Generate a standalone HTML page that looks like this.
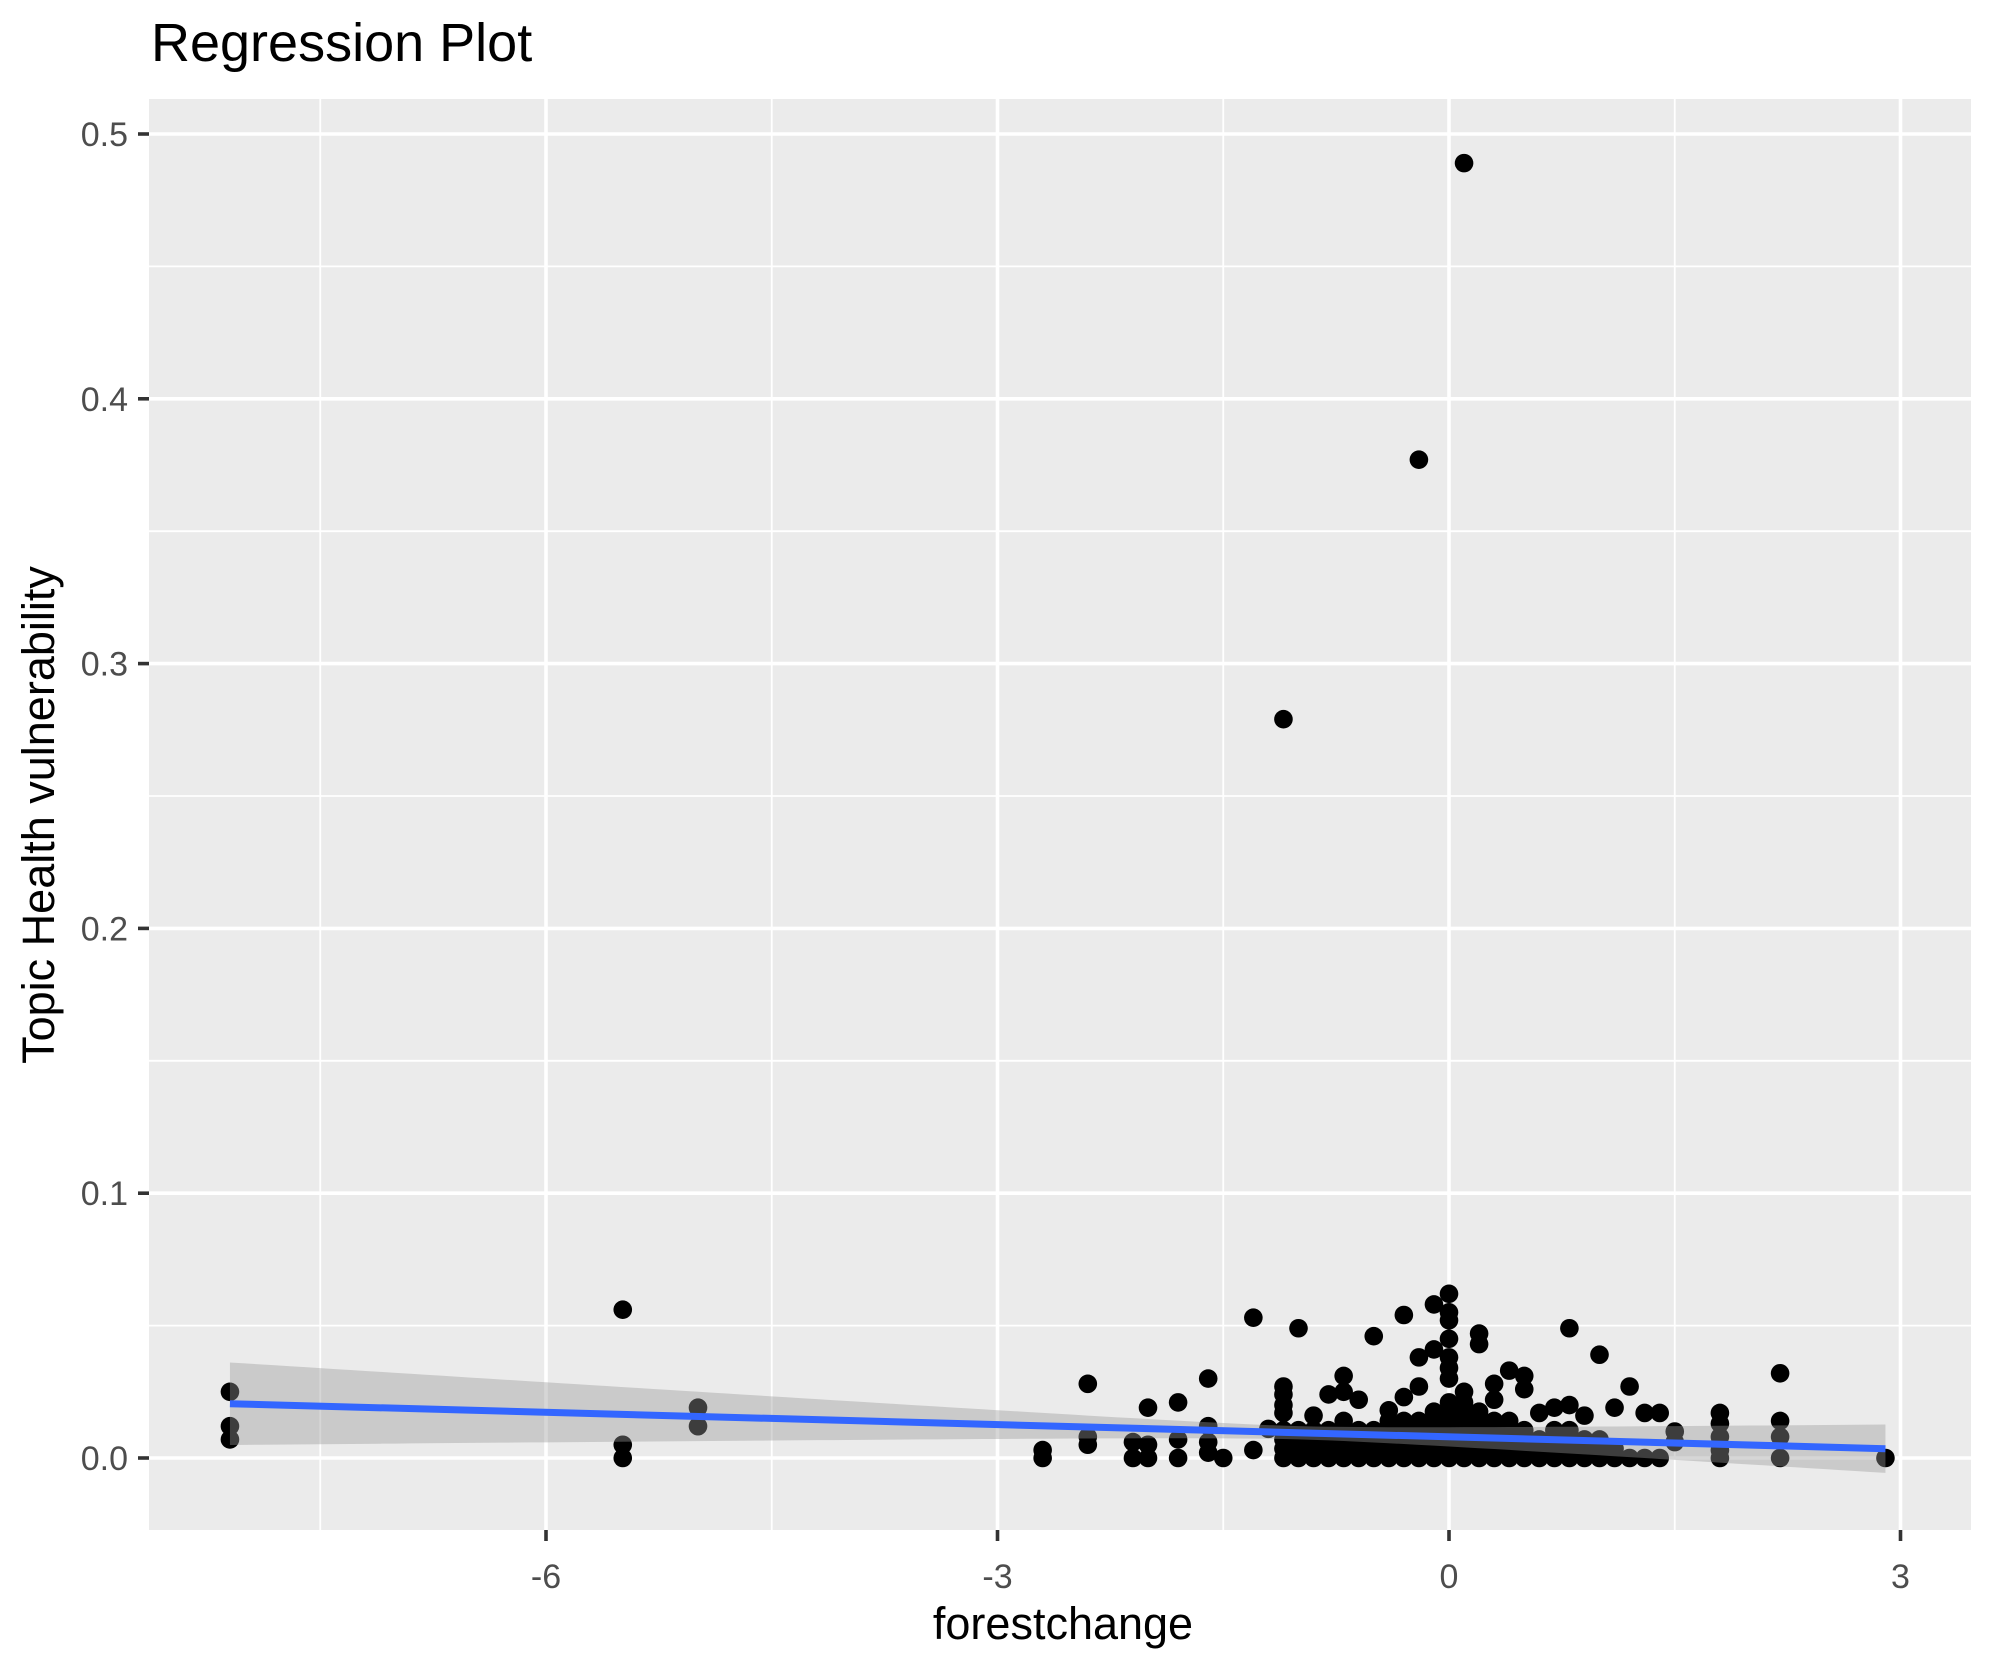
<!DOCTYPE html>
<html><head><meta charset="utf-8"><style>
html,body{margin:0;padding:0;background:#fff;}
svg{display:block;}
text{font-family:"Liberation Sans",sans-serif;}
</style></head><body>
<svg id="s" width="1990" height="1665" xmlns="http://www.w3.org/2000/svg">
<rect x="0" y="0" width="1990" height="1665" fill="#fff"/>
<rect x="149" y="99" width="1822" height="1431" fill="#ebebeb"/>
<g id="grid"></g>
<g id="pts"></g>
<polygon id="rib" fill="#999999" fill-opacity="0.4"/>
<line id="reg" stroke="#3366ff" stroke-width="7"/>
<g id="axes"></g>
<text x="151" y="61" font-size="54" fill="#000">Regression Plot</text>
<text x="1063" y="1639" font-size="45" text-anchor="middle" fill="#000">forestchange</text>
<text transform="translate(54,815) rotate(-90)" font-size="45" text-anchor="middle" fill="#000">Topic Health vulnerability</text>
</svg>
<script>
var NS="http://www.w3.org/2000/svg";
function X(v){return 1449+150.5*v;}
function Y(v){return 1458-2648*v;}
function el(p,t,a){var e=document.createElementNS(NS,t);for(var k in a)e.setAttribute(k,a[k]);document.getElementById(p).appendChild(e);return e;}
var L=149,R=1971,T=99,B=1530;
[-7.5,-4.5,-1.5,1.5].forEach(function(v){el("grid","line",{x1:X(v),x2:X(v),y1:T,y2:B,stroke:"#fff","stroke-width":1.8});});
[0.05,0.15,0.25,0.35,0.45].forEach(function(v){el("grid","line",{x1:L,x2:R,y1:Y(v),y2:Y(v),stroke:"#fff","stroke-width":1.8});});
[-6,-3,0,3].forEach(function(v){el("grid","line",{x1:X(v),x2:X(v),y1:T,y2:B,stroke:"#fff","stroke-width":3.6});
 el("axes","line",{x1:X(v),x2:X(v),y1:B,y2:B+11,stroke:"#333","stroke-width":3.6});
 var t=el("axes","text",{x:X(v),y:1588,"font-size":34,"text-anchor":"middle",fill:"#4d4d4d"});t.textContent=String(v);});
[0,0.1,0.2,0.3,0.4,0.5].forEach(function(v){el("grid","line",{x1:L,x2:R,y1:Y(v),y2:Y(v),stroke:"#fff","stroke-width":3.6});
 el("axes","line",{x1:L-11,x2:L,y1:Y(v),y2:Y(v),stroke:"#333","stroke-width":3.6});
 var t=el("axes","text",{x:128,y:Y(v)+12,"font-size":34,"text-anchor":"end",fill:"#4d4d4d"});t.textContent=v.toFixed(1);});
var P=[[0.1,0.489],[-0.2,0.377],[-1.1,0.279],
[-8.1,0.025],[-8.1,0.012],[-8.1,0.007],[-5.49,0.056],[-5.49,0.005],[-5.49,0],[-4.99,0.019],[-4.99,0.012],
[-2.7,0.003],[-2.7,0],[-2.4,0.028],[-2.4,0.008],[-2.4,0.005],[-2.1,0.006],[-2.1,0],[-2.0,0.019],[-2.0,0.005],[-2.0,0],
[-1.8,0.021],[-1.8,0.007],[-1.8,0],[-1.6,0.03],[-1.6,0.012],[-1.6,0.006],[-1.6,0.002],[-1.5,0],[-1.3,0.053],[-1.3,0.003],[-1.2,0.011],
[-1.0,0.049],[-0.5,0.046],[-0.3,0.054],[-0.1,0.058],[-0.1,0.041],[0,0.062],[0,0.055],[0,0.052],[0,0.045],[0,0.038],[0,0.034],[0,0.03],
[0.2,0.047],[0.2,0.043],[0.8,0.049],[1.0,0.039],[1.2,0.027],[1.1,0.019],[1.3,0.017],[1.4,0.017],[0.4,0.033],[0.5,0.031],[0.5,0.026],
[-0.7,0.031],[-0.7,0.025],[-0.2,0.038],[-0.2,0.027],[-1.1,0.027],[-1.1,0.024],[-1.1,0.02],[-1.1,0.017],[-0.8,0.024],[-0.4,0.018],[-0.3,0.023],
[0.3,0.028],[0.3,0.022],[0.6,0.017],[0.7,0.019],[0.8,0.02],[0.9,0.016],[0.1,0.025],[-0.6,0.022],[-0.9,0.016],
[1.5,0.01],[1.5,0.006],[1.8,0.017],[1.8,0.013],[1.8,0.008],[1.8,0.003],[1.8,0],[2.2,0.032],[2.2,0.014],[2.2,0.008],[2.2,0],[2.9,0]];
var H={"-11":0.013,"-10":0.011,"-9":0.012,"-8":0.013,"-7":0.014,"-6":0.012,"-5":0.013,"-4":0.014,"-3":0.016,"-2":0.017,"-1":0.02,"0":0.024,"1":0.021,"2":0.019,"3":0.017,"4":0.014,"5":0.013,"6":0.008,"7":0.013,"8":0.012,"9":0.01,"10":0.008,"11":0.004,"12":0.0,"13":0,"14":0};
for(var i=-11;i<=14;i++){var h=H[String(i)];for(var y=0;y<=h+1e-9;y+=0.0035)P.push([i/10,y]);}
P.forEach(function(p){el("pts","circle",{cx:X(p[0]),cy:Y(p[1]),r:9.3,fill:"#000"});});
function m(x){return 0.00799-0.001545*x;}
var up=[],lo=[];
for(var x=-8.1;x<=2.901;x+=0.1){var se=0.0025+0.00205*Math.abs(x+1.0)*Math.abs(x+1.0)/ (Math.abs(x+1.0)+0.8);up.push(X(x)+","+Y(m(x)+se));lo.unshift(X(x)+","+Y(m(x)-se));}
document.getElementById("rib").setAttribute("points",up.concat(lo).join(" "));
var r=document.getElementById("reg");r.setAttribute("x1",X(-8.1));r.setAttribute("y1",Y(m(-8.1)));r.setAttribute("x2",X(2.9));r.setAttribute("y2",Y(m(2.9)));
</script>
</body></html>
